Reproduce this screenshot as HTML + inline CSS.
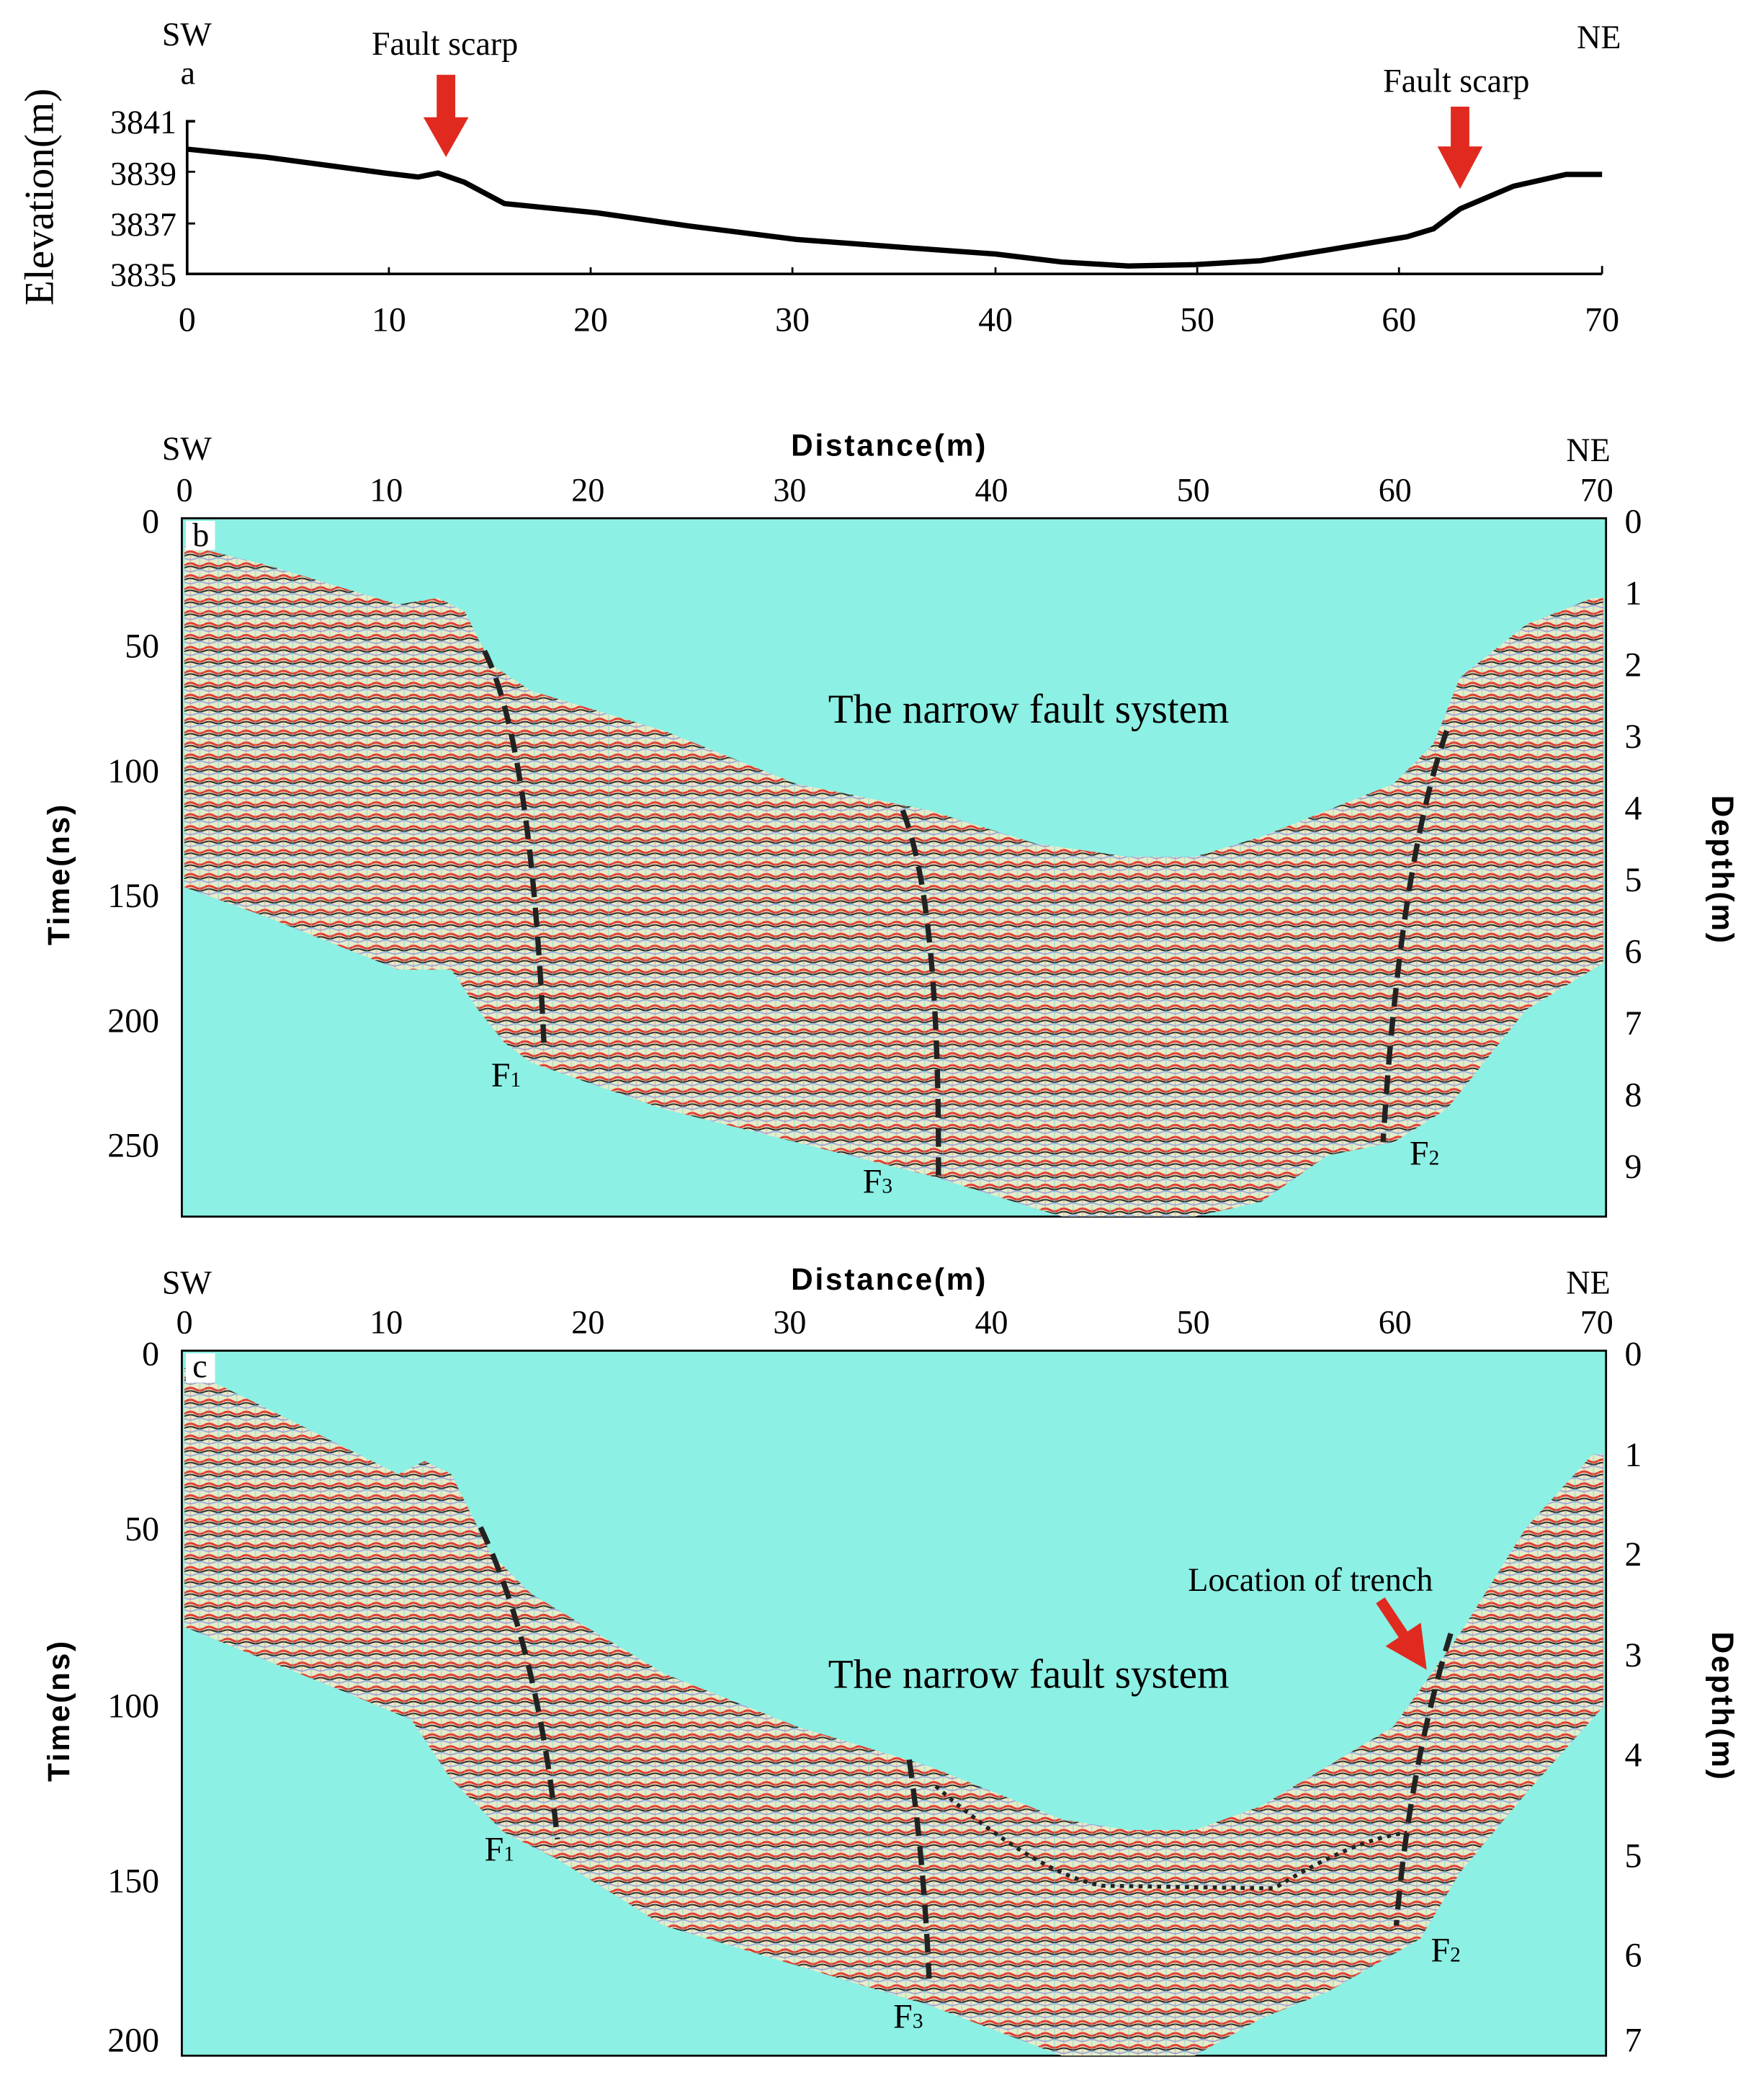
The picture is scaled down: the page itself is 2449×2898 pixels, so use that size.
<!DOCTYPE html>
<html><head><meta charset="utf-8"><style>
html,body{margin:0;padding:0;background:#fff;}
svg{display:block;}
text{font-family:"Liberation Serif",serif;fill:#000;}
.sans{font-family:"Liberation Sans",sans-serif;font-weight:bold;letter-spacing:1.5px;}
</style></head><body>
<svg width="2449" height="2898" viewBox="0 0 1329 1572" xmlns="http://www.w3.org/2000/svg">
<defs>
<pattern id="seis" width="14" height="9" patternUnits="userSpaceOnUse">
<rect width="14" height="9" fill="#e6ecc8"/>
<path d="M0 2 Q3.5 0 7 2 T14 2" stroke="#e03a30" stroke-width="1.6" fill="none"/>
<path d="M0 4 Q3.5 2.5 7 4 T14 4" stroke="#222" stroke-width="1.1" fill="none"/>
<path d="M0 6.5 Q3.5 8 7 6.5 T14 6.5" stroke="#9aa8e0" stroke-width="1" fill="none"/>
<rect x="3" y="0" width="1" height="9" fill="#c77" opacity="0.35"/>
<rect x="10" y="0" width="1" height="9" fill="#6cc" opacity="0.4"/>
</pattern>
<marker id="ah" markerWidth="4" markerHeight="4" refX="2" refY="2" orient="auto"><path d="M0,0 L4,2 L0,4z" fill="#e02a20"/></marker>
</defs>

<!-- Panel a -->
<text x="122" y="34" font-size="25">SW</text>
<text x="136" y="63" font-size="25">a</text>
<text x="1188" y="36" font-size="25">NE</text>
<text x="280" y="41" font-size="25">Fault scarp</text>
<text x="1042" y="69" font-size="25">Fault scarp</text>
<rect x="329" y="56" width="14" height="36" fill="#e02a20"/><path d="M319 88 L353 88 L336 118z" fill="#e02a20"/>
<rect x="1093" y="80" width="14" height="34" fill="#e02a20"/><path d="M1083 110 L1117 110 L1100 142z" fill="#e02a20"/>
<text transform="translate(40,148) rotate(-90)" font-size="31" text-anchor="middle">Elevation(m)</text>
<g font-size="25" text-anchor="end"><text x="133" y="100">3841</text><text x="133" y="139">3839</text><text x="133" y="177">3837</text><text x="133" y="215">3835</text></g>
<path d="M147 91 H141 V206 H1207" stroke="#000" stroke-width="2" fill="none"/>
<g stroke="#000" stroke-width="1.5"><path d="M141 129 h6 M141 168 h6"/><path d="M293 206 v-5 M445 206v-5 M597 206v-5 M750 206v-5 M902 206v-5 M1054 206v-5 M1207 206v-6"/></g>
<g font-size="26" text-anchor="middle"><text x="141" y="249">0</text><text x="293" y="249">10</text><text x="445" y="249">20</text><text x="597" y="249">30</text><text x="750" y="249">40</text><text x="902" y="249">50</text><text x="1054" y="249">60</text><text x="1207" y="249">70</text></g>
<polyline fill="none" stroke="#000" stroke-width="4" points="141,112 200,118 290,130 315,133 330,130 350,137 380,153 450,160 520,170 600,180 680,186 750,191 800,197 850,200 900,199 950,196 1000,188 1060,178 1080,172 1100,157 1140,140 1180,131 1207,131"/>

<!-- Panel b -->
<text x="122" y="346" font-size="25">SW</text><text x="1180" y="347" font-size="25">NE</text>
<text class="sans" x="670" y="343" font-size="23" text-anchor="middle">Distance(m)</text>
<g font-size="25" text-anchor="middle"><text x="139" y="377">0</text><text x="291" y="377">10</text><text x="443" y="377">20</text><text x="595" y="377">30</text><text x="747" y="377">40</text><text x="899" y="377">50</text><text x="1051" y="377">60</text><text x="1203" y="377">70</text></g>
<rect x="137" y="390" width="1073" height="526" fill="#8cf0e4" stroke="#000" stroke-width="1.5"/>
<polygon fill="url(#seis)" points="139,410 200,425 300,455 330,450 350,460 370,500 400,520 500,550 600,590 700,610 780,635 850,645 900,645 950,630 1000,610 1050,590 1080,560 1100,510 1150,470 1200,450 1208,450 1208,725 1150,760 1090,835 1050,860 1000,870 950,905 900,916 800,916 700,885 600,860 500,835 400,800 380,785 360,760 340,730 300,730 250,710 200,690 139,668"/>
<rect x="140" y="392" width="22" height="22" fill="#fff"/><text x="145" y="411" font-size="25">b</text>
<text x="775" y="544" font-size="31" text-anchor="middle">The narrow fault system</text>
<g stroke="#222" stroke-width="4" stroke-dasharray="14,8" fill="none"><path d="M365 490 Q400 560 410 790"/><path d="M680 610 Q708 680 707 885"/><path d="M1090 550 Q1055 650 1042 860"/></g>
<text x="370" y="818" font-size="26">F<tspan font-size="16">1</tspan></text>
<text x="650" y="898" font-size="26">F<tspan font-size="16">3</tspan></text>
<text x="1062" y="877" font-size="26">F<tspan font-size="16">2</tspan></text>
<text class="sans" transform="translate(52,658) rotate(-90)" font-size="23" text-anchor="middle">Time(ns)</text>
<text class="sans" transform="translate(1290,655) rotate(90)" font-size="23" text-anchor="middle">Depth(m)</text>
<g font-size="26" text-anchor="end"><text x="120" y="401">0</text><text x="120" y="495">50</text><text x="120" y="589">100</text><text x="120" y="683">150</text><text x="120" y="777">200</text><text x="120" y="871">250</text></g>
<g font-size="26"><text x="1224" y="401">0</text><text x="1224" y="455">1</text><text x="1224" y="509">2</text><text x="1224" y="563">3</text><text x="1224" y="617">4</text><text x="1224" y="671">5</text><text x="1224" y="725">6</text><text x="1224" y="779">7</text><text x="1224" y="833">8</text><text x="1224" y="887">9</text></g>

<!-- Panel c -->
<text x="122" y="974" font-size="25">SW</text><text x="1180" y="974" font-size="25">NE</text>
<text class="sans" x="670" y="971" font-size="23" text-anchor="middle">Distance(m)</text>
<g font-size="25" text-anchor="middle"><text x="139" y="1004">0</text><text x="291" y="1004">10</text><text x="443" y="1004">20</text><text x="595" y="1004">30</text><text x="747" y="1004">40</text><text x="899" y="1004">50</text><text x="1051" y="1004">60</text><text x="1203" y="1004">70</text></g>
<rect x="137" y="1017" width="1073" height="531" fill="#8cf0e4" stroke="#000" stroke-width="1.5"/>
<polygon fill="url(#seis)" points="139,1030 200,1060 300,1110 320,1100 340,1110 370,1170 400,1200 500,1260 600,1300 700,1330 800,1370 850,1378 900,1378 950,1360 1000,1330 1050,1300 1100,1230 1150,1150 1200,1095 1208,1095 1208,1285 1150,1350 1100,1410 1070,1460 1000,1500 950,1520 900,1548 800,1548 700,1510 600,1480 500,1450 420,1400 380,1380 340,1340 310,1295 250,1270 200,1250 139,1225"/>
<rect x="140" y="1019" width="22" height="22" fill="#fff"/><text x="145" y="1037" font-size="25">c</text>
<text x="775" y="1271" font-size="31" text-anchor="middle">The narrow fault system</text>
<text x="895" y="1198" font-size="25">Location of trench</text>
<path d="M1040 1205 L1066 1244" stroke="#e02a20" stroke-width="8" marker-end="url(#ah)"/>
<g stroke="#222" stroke-width="4" stroke-dasharray="14,8" fill="none"><path d="M362 1150 Q405 1240 420 1385"/><path d="M685 1325 Q696 1400 700 1490"/><path d="M1093 1230 Q1062 1330 1052 1450"/></g>
<path d="M705 1345 Q780 1410 830 1420 L960 1422 Q1020 1385 1060 1380" stroke="#222" stroke-width="3" stroke-dasharray="3,4" fill="none"/>
<text x="365" y="1401" font-size="26">F<tspan font-size="16">1</tspan></text>
<text x="673" y="1527" font-size="26">F<tspan font-size="16">3</tspan></text>
<text x="1078" y="1477" font-size="26">F<tspan font-size="16">2</tspan></text>
<text class="sans" transform="translate(52,1288) rotate(-90)" font-size="23" text-anchor="middle">Time(ns)</text>
<text class="sans" transform="translate(1290,1285) rotate(90)" font-size="23" text-anchor="middle">Depth(m)</text>
<g font-size="26" text-anchor="end"><text x="120" y="1028">0</text><text x="120" y="1160">50</text><text x="120" y="1293">100</text><text x="120" y="1425">150</text><text x="120" y="1545">200</text></g>
<g font-size="26"><text x="1224" y="1028">0</text><text x="1224" y="1104">1</text><text x="1224" y="1179">2</text><text x="1224" y="1255">3</text><text x="1224" y="1330">4</text><text x="1224" y="1406">5</text><text x="1224" y="1481">6</text><text x="1224" y="1545">7</text></g>
</svg>
</body></html>
